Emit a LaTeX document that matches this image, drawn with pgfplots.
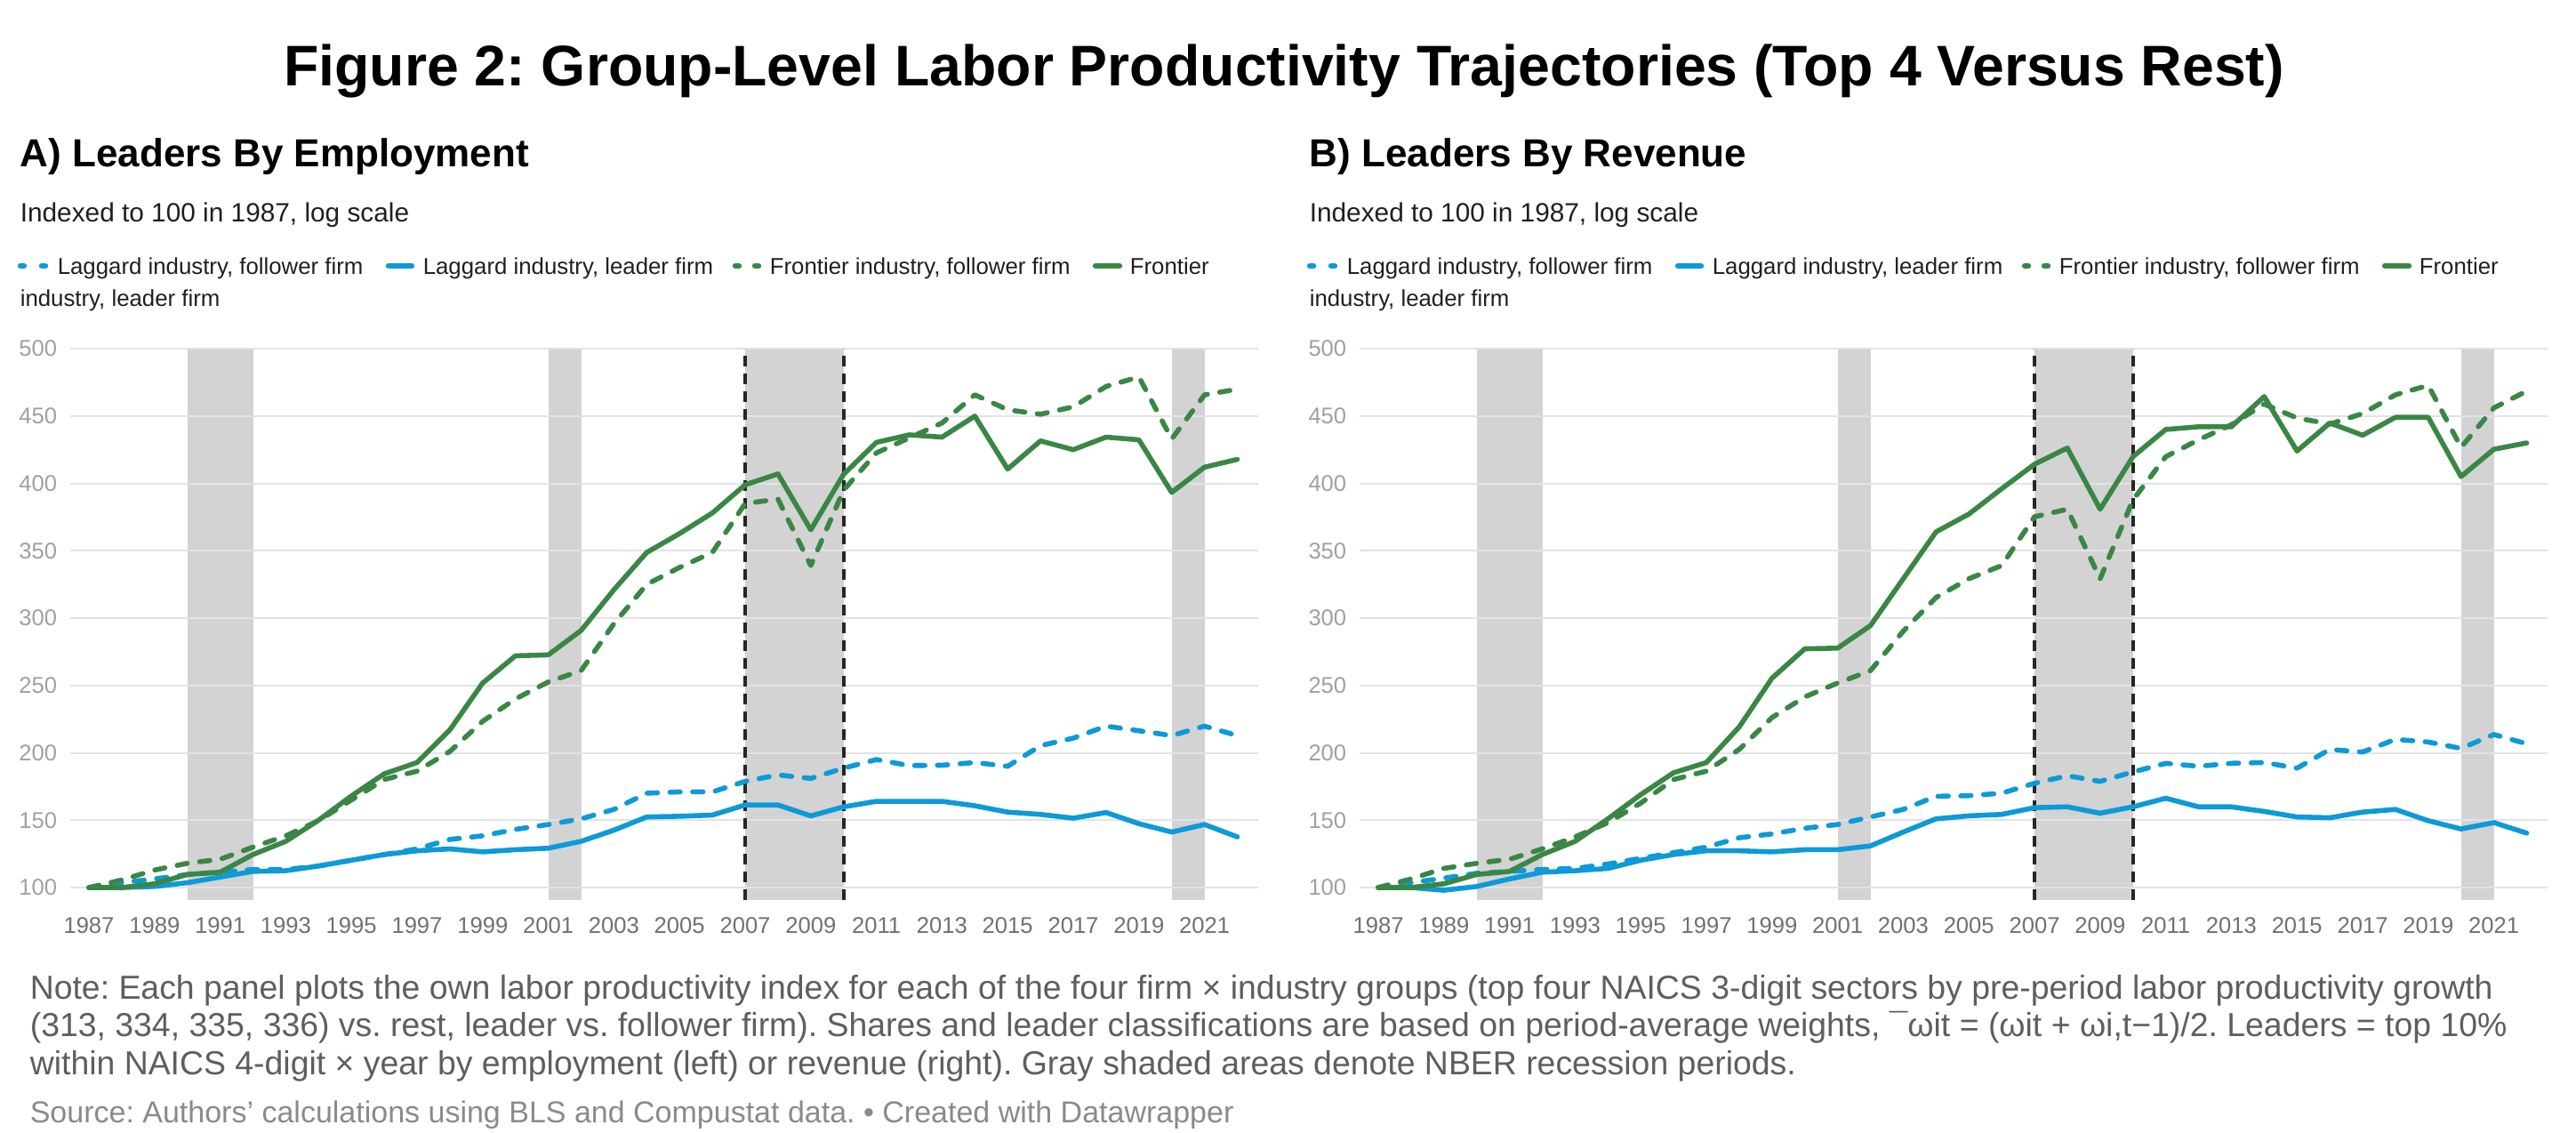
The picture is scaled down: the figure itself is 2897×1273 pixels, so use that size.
\documentclass[border=0pt]{standalone}
\usepackage{pgfplots}
\pgfplotsset{compat=1.18}
\usepackage{pgfplotstable}
\usepackage{fontspec}
\setmainfont{Liberation Sans}
\definecolor{lagblue}{HTML}{0C9AD8}
\definecolor{frgreen}{HTML}{3A8745}
\definecolor{recgray}{HTML}{D3D3D3}
\definecolor{gridgray}{HTML}{E3E3E3}
\definecolor{ylab}{HTML}{A0A0A0}
\definecolor{xlab}{HTML}{707070}
\definecolor{notegray}{HTML}{5E5E5E}
\definecolor{srcgray}{HTML}{8A8A8A}

\pgfplotstableread{
year lf ll ff fl
1987 100 100 100 100
1988 103.6 100 105.6 100
1989 106.4 100.8 113 102.8
1990 109.7 103.6 118 109.7
1991 111.4 107.8 121 111.4
1992 113.4 112 130 124.5
1993 113.4 112.5 138.4 134.3
1994 116 116 149.6 150
1995 120.3 120.3 165 168
1996 124.5 124.5 180.2 184.4
1997 128.7 127.3 186.4 192.8
1998 135.7 128.7 201 217
1999 138.4 126.5 223.4 251.8
2000 143.2 128.1 240 272
2001 146.8 129.2 252.6 272.7
2002 151 134.3 261 290.8
2003 158 142.6 295.8 321
2004 170 152.4 325 348.7
2005 171 152.9 337.6 362.7
2006 171 153.8 348.7 378
2007 178.8 161.3 385 398.9
2008 183.6 161.3 388.3 407
2009 181 153.2 339 365.5
2010 188.6 159.9 395 406.7
2011 195 164 422.6 430.4
2012 190.5 164 433.7 436
2013 190.8 164 444.8 434.3
2014 192.8 160.7 465.7 449.9
2015 190 156 454.6 410.6
2016 205.3 154.3 451.3 431.5
2017 210.9 151.5 456.8 425
2018 219.8 155.7 471.9 434.3
2019 216.4 147.4 479 432.3
2020 212.8 141.2 432.9 393.3
2021 219.8 146.8 465.7 412
2022 212.8 137.6 469.9 417.8
}\leftdata

\pgfplotstableread{
year lf ll ff fl
1987 100 100 100 100
1988 103.6 100 106.4 100
1989 107 98 114.2 102.8
1990 110.6 100.8 118 109.7
1991 112 106.4 121 112
1992 113.4 111.4 128.7 124.5
1993 114.2 112.5 137.6 134.3
1994 117.5 114.2 148.2 151
1995 121.7 120.3 162.7 169
1996 125.9 124.5 180.2 185.2
1997 130 127.3 186.4 192.8
1998 137 127.3 202.5 219.2
1999 139.8 126.5 226.2 255.4
2000 144 128.1 241.5 277.2
2001 146.8 128.1 251.8 277.7
2002 152.4 130.9 261 294.4
2003 158 141.2 290.3 329.2
2004 167.7 151 315.3 364
2005 168.2 153.2 329.2 377.2
2006 170 154.3 339 396
2007 177.4 159.3 375.2 414.2
2008 183 159.9 380.8 426.2
2009 178.8 155.2 329.2 380.8
2010 185.8 159.9 387.7 419.8
2011 192.2 166.3 419.8 440
2012 190 159.9 432.3 442
2013 192.2 159.9 443.5 442
2014 192.8 156.5 458.8 464.4
2015 188.6 152.4 448.5 424
2016 202.5 151.8 444 444.8
2017 200.6 156 451.8 435.7
2018 210 158 465.7 449
2019 208 149.6 472.7 449
2020 203.3 143.5 426.7 405
2021 213.6 148.2 456 425.3
2022 206.7 140.4 468.5 430
}\rightdata

\pgfplotsset{
 panel/.style={
   scale only axis, width=334pt, height=155pt, anchor=south west,
   xmin=1986.431, xmax=2022.637, ymin=90.76, ymax=500,
   xtick={1987,1989,...,2021}, ytick={100,150,...,500},
   axis line style={draw=none}, tick style={draw=none},
   ymajorgrids, grid style={draw=gridgray, line width=0.5pt},
   /pgf/number format/1000 sep={}, /pgf/number format/assume math mode=true,
   tick label style={font=\fontsize{6.4}{7}\selectfont},
   xticklabel style={anchor=base, inner sep=0pt, yshift=-9.25pt, text=xlab},
   yticklabel style={anchor=east, inner sep=0pt, xshift=-3.5pt, text=ylab},
   set layers,
 },
 rec/.style={fill=recgray, draw=none, on layer=axis background, forget plot},
 vdash/.style={draw=black!85, line width=1pt, dash pattern=on 3pt off 2pt, forget plot},
 sdash/.style={line width=1.4pt, line cap=round, line join=round, dash pattern=on 2.9pt off 3.5pt},
 ssolid/.style={line width=1.4pt, line cap=round, line join=round},
}

\newcommand{\recessions}{%
  \addplot[rec] coordinates {(1990,90.76) (1990,500) (1992,500) (1992,90.76)} --cycle;
  \addplot[rec] coordinates {(2001,90.76) (2001,500) (2002,500) (2002,90.76)} --cycle;
  \addplot[rec] coordinates {(2007,90.76) (2007,500) (2010,500) (2010,90.76)} --cycle;
  \addplot[rec] coordinates {(2020,90.76) (2020,500) (2021,500) (2021,90.76)} --cycle;
  \addplot[vdash] coordinates {(2007,90.76) (2007,500)};
  \addplot[vdash] coordinates {(2010,90.76) (2010,500)};
}

\newcommand{\panelheader}[2]{%
  \node[anchor=base west, inner sep=0pt, font=\fontsize{11}{13}\selectfont\bfseries] at (#1+22,188) {#2};
  \node[anchor=base west, inner sep=0pt, font=\fontsize{7.45}{9}\selectfont, text=black!88] at (#1+22,250) {Indexed to 100 in 1987, log scale};
  \begin{scope}[line width=1.6pt, line cap=round]
    \draw[lagblue] (#1+23,299) -- (#1+27,299);
    \draw[lagblue] (#1+47,299) -- (#1+51,299);
    \draw[lagblue] (#1+437,299) -- (#1+463,299);
    \draw[frgreen] (#1+827,299) -- (#1+831,299);
    \draw[frgreen] (#1+849,299) -- (#1+853,299);
    \draw[frgreen] (#1+1232,299) -- (#1+1259,299);
  \end{scope}
  \begin{scope}[every node/.style={anchor=base west, inner sep=0pt, font=\fontsize{6.45}{8}\selectfont, text=black!88}]
    \node at (#1+64,308) {Laggard industry, follower firm};
    \node at (#1+475,308) {Laggard industry, leader firm};
    \node at (#1+865,308) {Frontier industry, follower firm};
    \node at (#1+1270,308) {Frontier};
    \node at (#1+22,344) {industry, leader firm};
  \end{scope}
}

\begin{document}
\frenchspacing
\begin{tikzpicture}
\begin{scope}[x=0.25pt, y=-0.25pt]
  \path[use as bounding box] (0,0) rectangle (2897,1273);
  \node[anchor=base, inner sep=0pt, font=\fontsize{16.1}{19}\selectfont\bfseries] at (1444,97)
    {Figure 2: Group-Level Labor Productivity Trajectories (Top 4 Versus Rest)};
  \panelheader{0}{A) Leaders By Employment}
  \panelheader{1450}{B) Leaders By Revenue}
  \begin{scope}[every node/.style={anchor=base west, inner sep=0pt, font=\fontsize{9.35}{11}\selectfont, text=notegray}]
    \node at (33,1123) {Note: Each panel plots the own labor productivity index for each of the four firm × industry groups (top four NAICS 3-digit sectors by pre-period labor productivity growth};
    \node at (33,1165) {(313, 334, 335, 336) vs. rest, leader vs. follower firm). Shares and leader classifications are based on period-average weights, ¯ωit = (ωit + ωi,t−1)/2. Leaders = top 10\%};
    \node at (33,1208) {within NAICS 4-digit × year by employment (left) or revenue (right). Gray shaded areas denote NBER recession periods.};
    \node[text=srcgray, font=\fontsize{8.5}{10}\selectfont] at (33,1262) {Source: Authors' calculations using BLS and Compustat data. • Created with Datawrapper};
  \end{scope}
\end{scope}

\begin{axis}[panel, at={(19.75pt,-253pt)}]
  \recessions
  \addplot[sdash, lagblue] table[x=year, y=lf] {\leftdata};
  \addplot[ssolid, lagblue] table[x=year, y=ll] {\leftdata};
  \addplot[sdash, frgreen] table[x=year, y=ff] {\leftdata};
  \addplot[ssolid, frgreen] table[x=year, y=fl] {\leftdata};
\end{axis}

\begin{axis}[panel, at={(382.25pt,-253pt)}]
  \recessions
  \addplot[sdash, lagblue] table[x=year, y=lf] {\rightdata};
  \addplot[ssolid, lagblue] table[x=year, y=ll] {\rightdata};
  \addplot[sdash, frgreen] table[x=year, y=ff] {\rightdata};
  \addplot[ssolid, frgreen] table[x=year, y=fl] {\rightdata};
\end{axis}
\end{tikzpicture}
\end{document}
